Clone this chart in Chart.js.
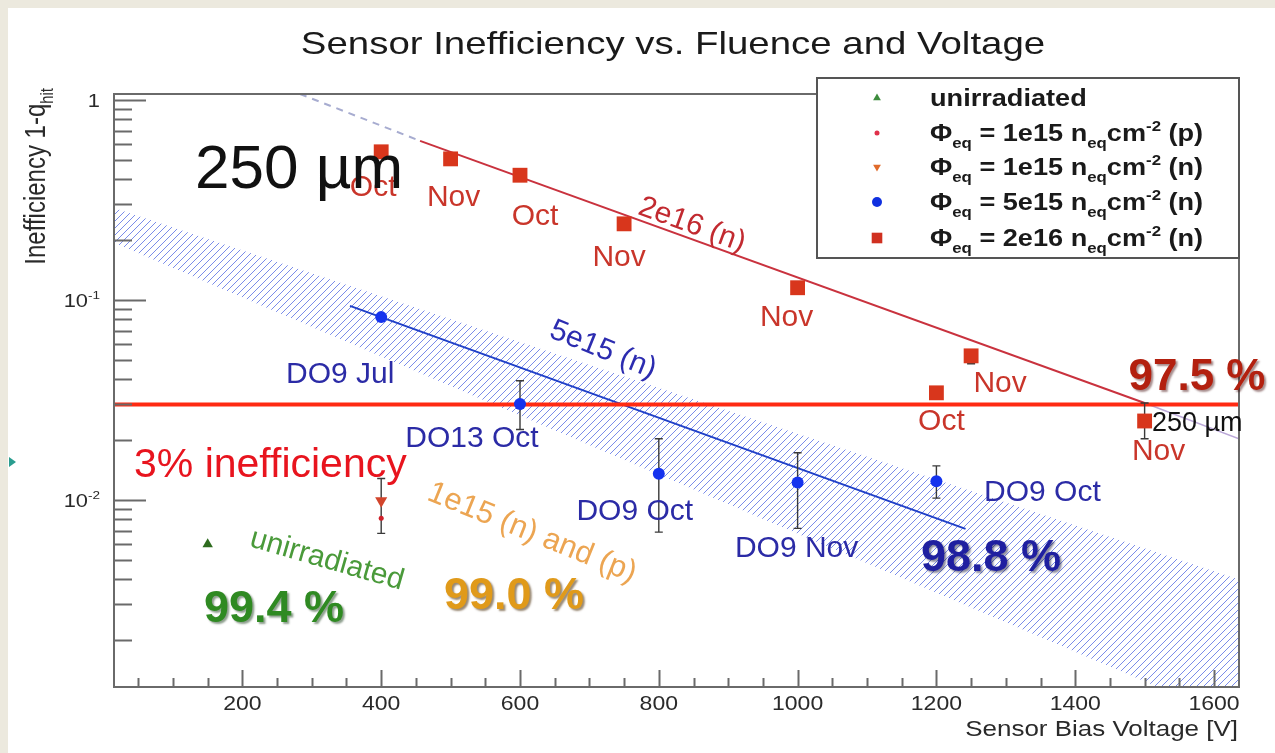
<!DOCTYPE html>
<html>
<head>
<meta charset="utf-8">
<script src="https://cdn.jsdelivr.net/npm/chart.js@4.4.1/dist/chart.umd.min.js"></script>
<style>
  html, body { margin: 0; padding: 0; background: #fff; }
  canvas { display: block; }
</style>
</head>
<body>
<canvas id="c" width="1275" height="753"></canvas>
<script>
// ---------------- data ----------------
const seriesNames = [
  'unirradiated',
  'Φ_{eq} = 1e15 n_{eq}cm^{-2} (p)',
  'Φ_{eq} = 1e15 n_{eq}cm^{-2} (n)',
  'Φ_{eq} = 5e15 n_{eq}cm^{-2} (n)',
  'Φ_{eq} = 2e16 n_{eq}cm^{-2} (n)'
];

// unirradiated sensor
const unirrV = [150];
const unirrIneff = [0.0060];

// 1e15 protons
const p1e15V = [400];
const p1e15Ineff = [0.0081];

// 1e15 neutrons
const n1e15V = [400];
const n1e15Ineff = [0.0099];
const n1e15Lo = [0.0068];
const n1e15Hi = [0.0128];

// 5e15 neutrons
const n5e15V = [400, 600, 800, 1000, 1200];
const n5e15Ineff = [0.082, 0.0302, 0.0135, 0.0122, 0.0124];
const n5e15Lo = [0.082, 0.0225, 0.0069, 0.0072, 0.0102];
const n5e15Hi = [0.082, 0.0394, 0.0202, 0.0172, 0.0148];
const n5e15Tags = ['DO9 Jul', 'DO13 Oct', 'DO9 Oct', 'DO9 Nov', 'DO9 Oct'];

// 2e16 neutrons
const n2e16V = [400, 500, 600, 750, 1000, 1200, 1250, 1500];
const n2e16Ineff = [0.55, 0.507, 0.42, 0.24, 0.115, 0.0343, 0.0525, 0.0248];
const n2e16Lo = [0.55, 0.507, 0.42, 0.24, 0.115, 0.0343, 0.0479, 0.0202];
const n2e16Hi = [0.55, 0.507, 0.42, 0.24, 0.115, 0.0343, 0.0525, 0.0305];
const n2e16Tags = ['Oct', 'Nov', 'Oct', 'Nov', 'Nov', 'Oct', 'Nov', 'Nov'];

// fits and uncertainty band
const fit5e15V = [355, 1242];
const fit5e15 = [0.0933, 0.00716];
const band5e15V = [15, 1636];
const band5e15Hi = [0.288, 0.0040];
const band5e15Lo = [0.193, 0.00078];
const fit2e16V = [456, 1500];
const fit2e16 = [0.624, 0.0305];
const fit2e16LowV = [283, 456];
const fit2e16Low = [1.07, 0.624];
const fit2e16HighV = [1500, 1636];
const fit2e16High = [0.0305, 0.0202];

// 3 % inefficiency threshold
const thresholdV = [15, 1636];
const threshold = [0.03, 0.03];

// axes
const xMajorTicks = [200, 400, 600, 800, 1000, 1200, 1400, 1600];
const xTickLabels = ['200', '400', '600', '800', '1000', '1200', '1400', '1600'];
const xMinorStep = 50;
const yMajorTicks = [0.01, 0.1, 1];
const yTickLabels = ['10^{-2}', '10^{-1}', '1'];

// ---------------- helpers ----------------
const FONT = '"Liberation Sans", Arial, Helvetica, sans-serif';
const pts = (xs, ys) => xs.map((x, i) => ({ x, y: ys[i] }));

// diagonal "////" hatch for the uncertainty band
function hatchPattern() {
  const n = 7;
  const c = document.createElement('canvas');
  c.width = n; c.height = n;
  const g = c.getContext('2d');
  g.strokeStyle = 'rgba(70,95,225,0.8)';
  g.lineWidth = 0.9;
  g.beginPath();
  g.moveTo(-1, n + 1); g.lineTo(n + 1, -1);
  g.moveTo(-1, 1); g.lineTo(1, -1);
  g.moveTo(n - 1, n + 1); g.lineTo(n + 1, n - 1);
  g.stroke();
  return g.createPattern(c, 'repeat');
}

// text with _{sub} and ^{sup} pieces
function parseRich(s) {
  const out = []; let buf = ''; let i = 0;
  while (i < s.length) {
    if ((s[i] === '_' || s[i] === '^') && s[i + 1] === '{') {
      if (buf) { out.push({ t: buf, m: 0 }); buf = ''; }
      const j = s.indexOf('}', i);
      out.push({ t: s.slice(i + 2, j), m: s[i] === '_' ? 1 : 2 });
      i = j + 1;
    } else { buf += s[i]; i++; }
  }
  if (buf) out.push({ t: buf, m: 0 });
  return out;
}

function drawText(ctx, s, x, y, o) {
  const segs = parseRich(s);
  const size = o.size;
  const weight = o.weight || 'normal';
  const fontFor = m => `${weight} ${m ? size * 0.62 : size}px ${FONT}`;
  ctx.save();
  ctx.translate(x, y);
  if (o.sx) ctx.scale(o.sx, 1);
  if (o.rot) ctx.rotate(o.rot * Math.PI / 180);
  let total = 0;
  segs.forEach(sg => { ctx.font = fontFor(sg.m); sg.w = ctx.measureText(sg.t).width; total += sg.w; });
  let cx = o.align === 'center' ? -total / 2 : o.align === 'right' ? -total : 0;
  ctx.fillStyle = o.color || '#222';
  ctx.textBaseline = o.baseline || 'alphabetic';
  ctx.textAlign = 'left';
  if (o.shadow) {
    ctx.shadowColor = o.shadow; ctx.shadowOffsetX = 2; ctx.shadowOffsetY = 2; ctx.shadowBlur = 2;
  }
  segs.forEach(sg => {
    ctx.font = fontFor(sg.m);
    const dy = sg.m === 1 ? size * 0.28 : sg.m === 2 ? -size * 0.42 : 0;
    ctx.fillText(sg.t, cx, dy);
    cx += sg.w;
  });
  ctx.restore();
}

// label offsets (pixels) from each marker
const n2e16TagOffsets = [[-8, 36], [3, 39], [15, 42], [-5, 34], [-11, 30], [5, 29], [29, 28], [14, 31]];
const n5e15TagOffsets = [[-41, 58], [-48, 35], [-24, 38], [-1, 66], [106, 12]];

const legendStyles = [
  { pointStyle: 'triangle', radius: 4.5, rotation: 0, color: '#3d8c3d' },
  { pointStyle: 'circle', radius: 2.5, rotation: 0, color: '#e0304a' },
  { pointStyle: 'triangle', radius: 4.5, rotation: 180, color: '#e06a2a' },
  { pointStyle: 'circle', radius: 5, rotation: 0, color: '#1030e0' },
  { pointStyle: 'rect', radius: 7.5, rotation: 0, color: '#d03020' }
];

// ---------------- drawing plugin ----------------
const overlay = {
  id: 'overlay',
  beforeDraw(chart) {
    const ctx = chart.ctx;
    ctx.save();
    ctx.fillStyle = '#ece9de';
    ctx.fillRect(0, 0, chart.width, chart.height);
    ctx.fillStyle = '#ffffff';
    ctx.fillRect(8, 8, chart.width - 8, chart.height - 8);
    // slide bullet at the left edge
    ctx.fillStyle = '#2a9d8f';
    ctx.beginPath(); ctx.moveTo(9, 457); ctx.lineTo(16, 462); ctx.lineTo(9, 467); ctx.closePath(); ctx.fill();
    ctx.restore();
  },
  beforeDatasetDraw(chart, args) {
    const ds = chart.data.datasets[args.index];
    if (!ds.errLo) return;
    const ctx = chart.ctx, xs = chart.scales.x, ys = chart.scales.y;
    ctx.save();
    ctx.strokeStyle = '#3a3a3a';
    ctx.lineWidth = 1.4;
    ds.data.forEach((p, i) => {
      const lo = ds.errLo[i], hi = ds.errHi[i];
      if (lo === hi) return;
      const px = xs.getPixelForValue(p.x);
      const y1 = ys.getPixelForValue(hi), y2 = ys.getPixelForValue(lo);
      ctx.beginPath();
      ctx.moveTo(px, y1); ctx.lineTo(px, y2);
      ctx.moveTo(px - 4, y1); ctx.lineTo(px + 4, y1);
      ctx.moveTo(px - 4, y2); ctx.lineTo(px + 4, y2);
      ctx.stroke();
    });
    ctx.restore();
  },
  afterDatasetsDraw(chart) {
    const ctx = chart.ctx, xs = chart.scales.x, ys = chart.scales.y;
    const a = chart.chartArea;

    // frame
    ctx.save();
    ctx.strokeStyle = '#6a6a6a';
    ctx.lineWidth = 2;
    ctx.strokeRect(a.left, a.top, a.right - a.left, a.bottom - a.top);

    // y ticks (inside)
    ctx.beginPath();
    for (let d = -3; d <= 0; d++) {
      for (let m = 1; m <= 9; m++) {
        const v = m * Math.pow(10, d);
        if (v < ys.min || v > ys.max) continue;
        const py = Math.round(ys.getPixelForValue(v)) + 0.5;
        const len = m === 1 ? 32 : 18;
        ctx.moveTo(a.left, py); ctx.lineTo(a.left + len, py);
      }
    }
    // x ticks (inside)
    for (let v = xMinorStep; v <= xs.max; v += xMinorStep) {
      if (v < xs.min) continue;
      const px = Math.round(xs.getPixelForValue(v)) + 0.5;
      const len = xMajorTicks.includes(v) ? 17 : 9;
      ctx.moveTo(px, a.bottom); ctx.lineTo(px, a.bottom - len);
    }
    ctx.stroke();
    ctx.restore();

    // tick labels
    yMajorTicks.forEach((v, i) => {
      drawText(ctx, yTickLabels[i], a.left - 14, ys.getPixelForValue(v) + 7, { size: 19, sx: 1.15, align: 'right', color: '#2a2a2a' });
    });
    xMajorTicks.forEach((v, i) => {
      drawText(ctx, xTickLabels[i], xs.getPixelForValue(v), a.bottom + 17, { size: 20, sx: 1.15, align: 'center', baseline: 'middle', color: '#2a2a2a' });
    });

    // axis titles
    drawText(ctx, 'Sensor Bias Voltage [V]', a.right - 1, a.bottom + 43, { size: 22, sx: 1.18, align: 'right', baseline: 'middle', color: '#2a2a2a' });
    drawText(ctx, 'Inefficiency 1-q_{hit}', 45, 88, { size: 24, sx: 1.2, rot: -90, align: 'right', color: '#2a2a2a' });

    // title
    drawText(ctx, 'Sensor Inefficiency vs. Fluence and Voltage', 673, 45, { size: 32, sx: 1.2, align: 'center', baseline: 'middle', color: '#1a1a1a' });

    // point tags
    n2e16V.forEach((v, i) => {
      const o = n2e16TagOffsets[i];
      drawText(ctx, n2e16Tags[i], xs.getPixelForValue(v) + o[0], ys.getPixelForValue(n2e16Ineff[i]) + o[1],
        { size: 30, align: 'center', baseline: 'middle', color: '#c9352a' });
    });
    n5e15V.forEach((v, i) => {
      const o = n5e15TagOffsets[i];
      drawText(ctx, n5e15Tags[i], xs.getPixelForValue(v) + o[0], ys.getPixelForValue(n5e15Ineff[i]) + o[1],
        { size: 30, align: 'center', baseline: 'middle', color: '#2b2ba6' });
    });

    // annotations
    drawText(ctx, '2e16 (n)', 692, 225, { size: 30, rot: 20, align: 'center', baseline: 'middle', color: '#c22a30' });
    drawText(ctx, '5e15 (n)', 603, 350, { size: 30, rot: 22, align: 'center', baseline: 'middle', color: '#2c2cb0' });
    drawText(ctx, '1e15 (n) and (p)', 532, 533, { size: 31, rot: 22, align: 'center', baseline: 'middle', color: '#eca552' });
    drawText(ctx, 'unirradiated', 327, 560, { size: 30, rot: 16, align: 'center', baseline: 'middle', color: '#4a9a3a' });
    drawText(ctx, '3% inefficiency', 134, 477, { size: 41, color: '#e8141e' });
    drawText(ctx, '250 µm', 195, 188, { size: 62, color: '#111' });
    drawText(ctx, '250 µm', 1152, 431, { size: 27, color: '#111' });
    drawText(ctx, '97.5 %', 1197, 378, { size: 44, weight: 'bold', align: 'center', baseline: 'middle', color: '#b3200f', shadow: 'rgba(60,0,0,0.45)' });
    drawText(ctx, '98.8 %', 991, 559, { size: 45, weight: 'bold', align: 'center', baseline: 'middle', color: '#1f1fa0', shadow: 'rgba(0,0,40,0.45)' });
    drawText(ctx, '99.4 %', 274, 610, { size: 45, weight: 'bold', align: 'center', baseline: 'middle', color: '#2f8a22', shadow: 'rgba(0,40,0,0.45)' });
    drawText(ctx, '99.0 %', 514, 597, { size: 45, weight: 'bold', align: 'center', baseline: 'middle', color: '#e09a1a', shadow: 'rgba(70,40,0,0.55)' });

    // legend
    const L = { left: 817, top: 78, right: 1239, bottom: 258 };
    ctx.save();
    ctx.fillStyle = '#fff';
    ctx.fillRect(L.left, L.top, L.right - L.left, L.bottom - L.top);
    ctx.strokeStyle = '#555';
    ctx.lineWidth = 2;
    ctx.strokeRect(L.left, L.top, L.right - L.left, L.bottom - L.top);
    ctx.restore();
    const rowY = [98, 133, 167, 202, 238];
    seriesNames.forEach((name, i) => {
      const st = legendStyles[i];
      ctx.save();
      ctx.fillStyle = st.color; ctx.strokeStyle = st.color;
      Chart.helpers.drawPoint(ctx, { pointStyle: st.pointStyle, radius: st.radius, rotation: st.rotation, borderWidth: 0 }, 877, rowY[i]);
      ctx.restore();
      drawText(ctx, name, 930, rowY[i] + 8, { size: 24, weight: 'bold', sx: 1.13, color: '#1a1a1a' });
    });
  }
};

// ---------------- chart ----------------
new Chart(document.getElementById('c'), {
  type: 'scatter',
  data: {
    datasets: [
      { type: 'line', data: pts(band5e15V, band5e15Hi), borderColor: 'rgba(0,0,0,0)', borderWidth: 1, pointRadius: 0,
        fill: '+1', backgroundColor: hatchPattern(), order: 20 },
      { type: 'line', data: pts(band5e15V, band5e15Lo), borderColor: 'rgba(0,0,0,0)', borderWidth: 1, pointRadius: 0,
        fill: false, order: 21 },
      { type: 'line', data: pts(fit5e15V, fit5e15), borderColor: '#2040c8', borderWidth: 2, pointRadius: 0, fill: false, order: 6 },
      { type: 'line', data: pts(fit2e16LowV, fit2e16Low), borderColor: '#a7acd0', borderWidth: 2, borderDash: [7, 6],
        pointRadius: 0, fill: false, order: 6 },
      { type: 'line', data: pts(fit2e16HighV, fit2e16High), borderColor: '#bba8d8', borderWidth: 1.6, pointRadius: 0, fill: false, order: 6 },
      { type: 'line', data: pts(fit2e16V, fit2e16), borderColor: '#c9323e', borderWidth: 2, pointRadius: 0, fill: false, order: 5 },
      { type: 'line', data: pts(thresholdV, threshold), borderColor: '#ff2a12', borderWidth: 4, pointRadius: 0, fill: false, order: 3 },
      { label: seriesNames[0], data: pts(unirrV, unirrIneff), pointStyle: 'triangle', pointRadius: 6,
        backgroundColor: '#2e6b1e', borderColor: '#2e6b1e', borderWidth: 0, order: 1 },
      { label: seriesNames[1], data: pts(p1e15V, p1e15Ineff), pointStyle: 'circle', pointRadius: 2.5,
        backgroundColor: '#d0202a', borderColor: '#d0202a', borderWidth: 0, order: 1 },
      { label: seriesNames[2], data: pts(n1e15V, n1e15Ineff), errLo: n1e15Lo, errHi: n1e15Hi, pointStyle: 'triangle',
        rotation: 180, pointRadius: 7, backgroundColor: '#d2452c', borderColor: '#d2452c', borderWidth: 0, order: 1 },
      { label: seriesNames[3], data: pts(n5e15V, n5e15Ineff), errLo: n5e15Lo, errHi: n5e15Hi, pointStyle: 'circle',
        pointRadius: 6, backgroundColor: '#1533ee', borderColor: '#1533ee', borderWidth: 0, order: 1 },
      { label: seriesNames[4], data: pts(n2e16V, n2e16Ineff), errLo: n2e16Lo, errHi: n2e16Hi, pointStyle: 'rect',
        pointRadius: 10.5, backgroundColor: '#d8361c', borderColor: '#d8361c', borderWidth: 0, order: 1 }
    ]
  },
  options: {
    responsive: false,
    animation: false,
    devicePixelRatio: 1,
    layout: { padding: { left: 114, top: 94, right: 36, bottom: 66 } },
    plugins: { legend: { display: false }, tooltip: { enabled: false }, title: { display: false } },
    elements: { line: { tension: 0 } },
    scales: {
      x: { type: 'linear', min: 15, max: 1636, ticks: { display: false }, grid: { display: false },
           border: { display: false }, afterFit(s) { s.height = 0; } },
      y: { type: 'logarithmic', min: 0.00116, max: 1.07, ticks: { display: false }, grid: { display: false },
           border: { display: false }, afterFit(s) { s.width = 0; } }
    }
  },
  plugins: [overlay]
});
</script>
</body>
</html>
